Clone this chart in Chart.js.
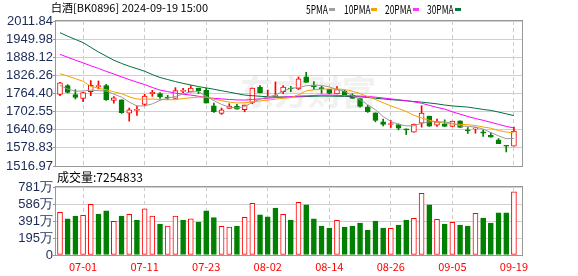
<!DOCTYPE html>
<html><head><meta charset="utf-8">
<script src="https://cdn.jsdelivr.net/npm/chart.js@4.4.1/dist/chart.umd.min.js"></script>
<style>
html,body{margin:0;padding:0;background:#fff;}
#wrap{position:relative;width:578px;height:276px;overflow:hidden;font-family:"Noto Sans CJK SC",sans-serif;}
canvas{position:absolute;left:0;top:0;}
.t{position:absolute;white-space:nowrap;line-height:1;}
.lg{position:absolute;white-space:nowrap;line-height:1;font-size:12px;color:#000;transform:scaleX(0.7);transform-origin:0 0;top:3px;}
.sq{position:absolute;width:6px;height:3px;top:8px;}
</style></head><body>
<div id="wrap">
 <div class="t" style="left:240px;top:74px;font-size:34px;font-weight:bold;color:#f1f1f1;">东方财富</div>
 <canvas id="pc" width="578" height="276"></canvas>
 <canvas id="vc" width="578" height="276"></canvas>
 <div class="t" style="left:51px;top:2px;font-size:11px;color:#000;">白酒[BK0896] 2024-09-19 15:00</div>
 <div class="lg" style="left:306px;">5PMA</div><div class="sq" style="left:329px;background:#a0a0a0"></div>
 <div class="lg" style="left:344px;">10PMA</div><div class="sq" style="left:371px;background:#f5a200"></div>
 <div class="lg" style="left:385px;">20PMA</div><div class="sq" style="left:413px;background:#ff33ff"></div>
 <div class="lg" style="left:427px;">30PMA</div><div class="sq" style="left:455px;background:#007a3d"></div>
 <div class="t" style="left:57px;top:171px;font-size:12px;color:#000;">成交量:7254833</div>
</div>
<script>
const dates=['06-26','06-27','06-28','07-01','07-02','07-03','07-04','07-05','07-08','07-09',
 '07-10','07-11','07-12','07-15','07-16','07-17','07-18','07-19','07-22','07-23',
 '07-24','07-25','07-26','07-29','07-30','07-31','08-01','08-02','08-05','08-06',
 '08-07','08-08','08-09','08-12','08-13','08-14','08-15','08-16','08-19','08-20',
 '08-21','08-22','08-23','08-26','08-27','08-28','08-29','08-30','09-02','09-03',
 '09-04','09-05','09-06','09-09','09-10','09-11','09-12','09-13','09-18','09-19'];
const open=[1761.5,1791.2,1760.4,1747.8,1770.6,1787.8,1791.2,1741.0,1743.2,1697.5,
 1706.7,1727.2,1763.8,1763.8,1752.4,1747.8,1771.8,1769.5,1783.2,1775.2,
 1722.6,1696.4,1713.5,1720.4,1709.0,1734.0,1785.5,1752.4,1754.7,1770.6,
 1782.0,1779.8,1821.0,1791.2,1783.2,1778.7,1762.7,1771.8,1758.1,1746.7,
 1718.1,1698.7,1667.8,1658.7,1658.7,1643.8,1632.4,1663.2,1687.2,1656.4,
 1659.8,1651.8,1671.2,1639.2,1643.8,1633.5,1622.0,1606.1,1586.6,1584.4];
const high=[1802.6,1794.7,1777.5,1768.0,1808.4,1807.2,1795.8,1753.5,1743.2,1714.7,
 1722.6,1761.5,1775.2,1767.2,1758.1,1784.4,1782.0,1791.2,1783.2,1782.0,
 1731.8,1714.7,1729.5,1727.2,1725.0,1783.2,1791.2,1776.4,1803.8,1791.2,
 1789.0,1821.0,1837.0,1805.0,1789.0,1778.7,1787.8,1775.2,1763.8,1746.7,
 1723.8,1698.7,1676.9,1672.4,1661.0,1643.8,1659.8,1722.6,1687.2,1676.9,
 1674.6,1670.0,1671.2,1648.4,1648.4,1640.3,1631.2,1610.7,1586.6,1649.5];
const low=[1757.0,1766.1,1745.5,1736.4,1757.0,1779.8,1741.0,1731.8,1696.4,1670.0,
 1689.5,1722.6,1754.7,1747.8,1743.2,1747.8,1766.0,1769.5,1763.8,1731.8,
 1699.8,1692.9,1713.5,1711.3,1702.0,1729.5,1766.1,1752.4,1754.7,1763.8,
 1770.6,1777.5,1802.6,1777.5,1765.0,1763.8,1762.7,1760.4,1747.8,1718.0,
 1699.8,1667.8,1654.0,1648.4,1640.3,1624.3,1632.4,1649.5,1651.8,1651.8,
 1651.8,1651.8,1648.4,1627.8,1629.0,1617.5,1615.3,1593.5,1564.9,1584.4];
const close=[1800.4,1768.4,1751.2,1767.2,1792.4,1791.2,1743.2,1750.0,1698.7,1709.0,
 1709.0,1755.8,1768.4,1752.4,1749.0,1774.1,1775.2,1783.2,1774.1,1731.8,
 1702.0,1709.0,1721.5,1711.3,1725.0,1783.2,1766.1,1755.8,1757.0,1786.6,
 1779.8,1814.1,1802.6,1787.8,1781.0,1765.0,1777.5,1760.4,1747.8,1720.4,
 1702.0,1672.4,1658.7,1659.8,1646.1,1640.3,1659.8,1697.5,1653.0,1667.8,
 1651.8,1670.0,1648.4,1636.9,1646.1,1629.0,1615.3,1593.5,1584.4,1635.8];
const ma5=[1792,1780,1772,1773,1776,1774,1773,1762,1752,1735,
 1722,1722,1729,1741,1749,1754,1763,1770,1771,1755,
 1740,1727,1718,1715,1720,1734,1746,1752,1759,1772,
 1783,1784,1791,1793,1792,1787,1778,1772,1757,1743,
 1726,1709,1686,1669,1659,1654,1654,1663,1668,1668,
 1667,1663,1654,1652,1650,1643,1631,1620,1610,1611];
const ma10=[1832,1824,1815,1806,1789,1782,1777.5,1770,1764,1753,
 1745.5,1745,1745.5,1744,1743,1743.5,1747,1750,1752,1752,
 1745,1740,1735,1732,1733,1735.5,1739,1742,1745,1748,
 1750,1760,1773,1777,1779,1780,1780,1778,1772,1764,
 1754,1744,1733,1722,1713,1703,1690,1681,1673,1667,
 1663,1660,1659,1658,1655,1650,1646,1638,1633,1630];
const ma20=[1898,1888,1878,1869,1859,1850,1840,1831,1821,1812,
 1803,1795,1785,1776,1771,1765.5,1762,1759,1755,1750.5,
 1748,1746,1744,1742.5,1742,1744,1746,1748.5,1750,1752,
 1753.5,1755.5,1756.5,1757.5,1759,1759,1758,1757,1756.5,1755.5,
 1754,1752,1749,1746,1743,1740,1736,1731,1724,1717,
 1711,1702,1694,1686,1679,1673,1666,1659,1652,1647];
const ma30=[1972,1960,1949,1938,1922,1906,1892,1878,1867,1857.5,
 1849,1840.5,1829,1819,1812,1805,1799,1793.5,1788,1783.5,
 1779,1774,1769,1764,1759,1757,1755,1753,1752.5,1752.5,
 1752.4,1753,1754,1755,1755.8,1755.5,1755,1754.5,1754,1753,
 1751,1748,1746,1743.5,1741.5,1739.5,1737,1735,1732,1729,
 1725,1722,1720,1718,1714,1710,1706.7,1701,1695,1689];
// volume in 万
const volume=[490,414,448,456,582,471,506,387,448,467,
 402,529,448,356,333,448,402,414,379,506,
 429,329,322,333,433,594,460,437,540,467,
 402,605,575,414,333,310,398,322,333,368,
 287,391,310,306,345,402,421,709,575,410,
 356,375,345,333,479,425,368,483,483,725.4833];
const volUp=[1,0,0,1,1,0,0,1,0,1,
 0,1,1,0,1,1,0,1,0,0,
 0,1,1,0,1,1,0,0,0,1,
 0,1,0,0,0,0,1,0,0,0,
 0,0,0,1,0,0,1,1,0,1,
 0,1,0,0,1,0,0,0,0,1];
const priceTicks=[2011.84,1949.98,1888.12,1826.26,1764.40,1702.55,1640.69,1578.83,1516.97];
const volTicks=[0,195.25,390.5,585.75,781];
const volTickLabels=['0','195万','391万','586万','781万'];
const xTickIdx=[3,11,19,27,35,43,51,59];

const UP='#ff0000', DN='#008000';
const idx=dates.map((d,i)=>i);
const up=idx.map(i=>close[i]>=open[i]);
const axisFont={family:'Liberation Sans',size:13};
const axisColor='#1a2a55';

const frame={id:'frame',afterDatasetsDraw(c){const a=c.chartArea,x=c.ctx;x.save();x.strokeStyle='#999';x.lineWidth=1;
 x.strokeRect(Math.round(a.left)-0.5,Math.round(a.top)-0.5,Math.round(a.right)-Math.round(a.left)+1,Math.round(a.bottom)-Math.round(a.top)+1);x.restore();}};

function xScale(show){return {type:'linear',min:-0.52,max:60.05,offset:false,
 afterBuildTicks:s=>{s.ticks=xTickIdx.map(v=>({value:v}));},
 grid:{color:'#cccccc',lineWidth:1,offset:false,drawTicks:false},
 border:{display:false,dash:[4,3]},
 ticks:{display:show,autoSkip:false,maxRotation:0,padding:5,color:'#ff0000',
  font:{family:'Noto Sans CJK SC',size:11},callback:v=>dates[v]},
 afterFit:s=>{s.height=show?21:0;}};}

function yCommon(){return {
 afterFit:s=>{s.width=56;},
 grid:{color:'#cfcfcf',lineWidth:1,drawTicks:true,tickLength:3,tickColor:'#999'},
 border:{display:false}};}

new Chart(document.getElementById('pc'),{
 type:'bar',
 data:{datasets:[
  {type:'line',data:idx.map(i=>({x:i,y:ma5[i]})),borderColor:'#999999',borderWidth:1,pointRadius:0,order:1},
  {type:'line',data:idx.map(i=>({x:i,y:ma10[i]})),borderColor:'#f5a200',borderWidth:1,pointRadius:0,order:1},
  {type:'line',data:idx.map(i=>({x:i,y:ma20[i]})),borderColor:'#ff00ff',borderWidth:1,pointRadius:0,order:1},
  {type:'line',data:idx.map(i=>({x:i,y:ma30[i]})),borderColor:'#006f3c',borderWidth:1,pointRadius:0,order:1},
  {type:'bar',data:idx.map(i=>({x:i,y:[open[i],close[i]]})),backgroundColor:idx.map(i=>up[i]?'#ffffff':DN),
   borderColor:idx.map(i=>up[i]?UP:DN),borderWidth:1,borderSkipped:false,barThickness:5,grouped:false,minBarLength:1,order:2},
  {type:'bar',data:idx.map(i=>({x:i,y:[low[i],high[i]]})),backgroundColor:idx.map(i=>up[i]?UP:DN),
   borderWidth:0,barThickness:1,grouped:false,minBarLength:1,order:3}
 ]},
 options:{responsive:false,animation:false,
  layout:{padding:{top:21,bottom:110,left:0,right:56}},
  plugins:{legend:{display:false},tooltip:{enabled:false}},
  scales:{
   x:xScale(false),
   y:Object.assign(yCommon(),{type:'linear',min:1516.97,max:2011.84,
    afterBuildTicks:s=>{s.ticks=priceTicks.map(v=>({value:v}));},
    ticks:{autoSkip:false,padding:0,color:axisColor,font:axisFont,callback:v=>v.toFixed(2)}})
  }},
 plugins:[frame]
});

new Chart(document.getElementById('vc'),{
 type:'bar',
 data:{datasets:[
  {type:'bar',data:idx.map(i=>({x:i,y:volume[i]})),backgroundColor:idx.map(i=>volUp[i]?'#ffffff':DN),
   borderColor:idx.map(i=>volUp[i]?UP:DN),borderWidth:1,borderSkipped:false,barThickness:5,grouped:false}
 ]},
 options:{responsive:false,animation:false,
  layout:{padding:{top:187,bottom:0,left:0,right:56}},
  plugins:{legend:{display:false},tooltip:{enabled:false}},
  scales:{
   x:xScale(true),
   y:Object.assign(yCommon(),{type:'linear',min:0,max:781,
    afterBuildTicks:s=>{s.ticks=volTicks.map(v=>({value:v}));},
    ticks:{autoSkip:false,padding:0,color:axisColor,font:axisFont,callback:(v,i)=>volTickLabels[i]}})
  }},
 plugins:[frame]
});
</script>
</body></html>
